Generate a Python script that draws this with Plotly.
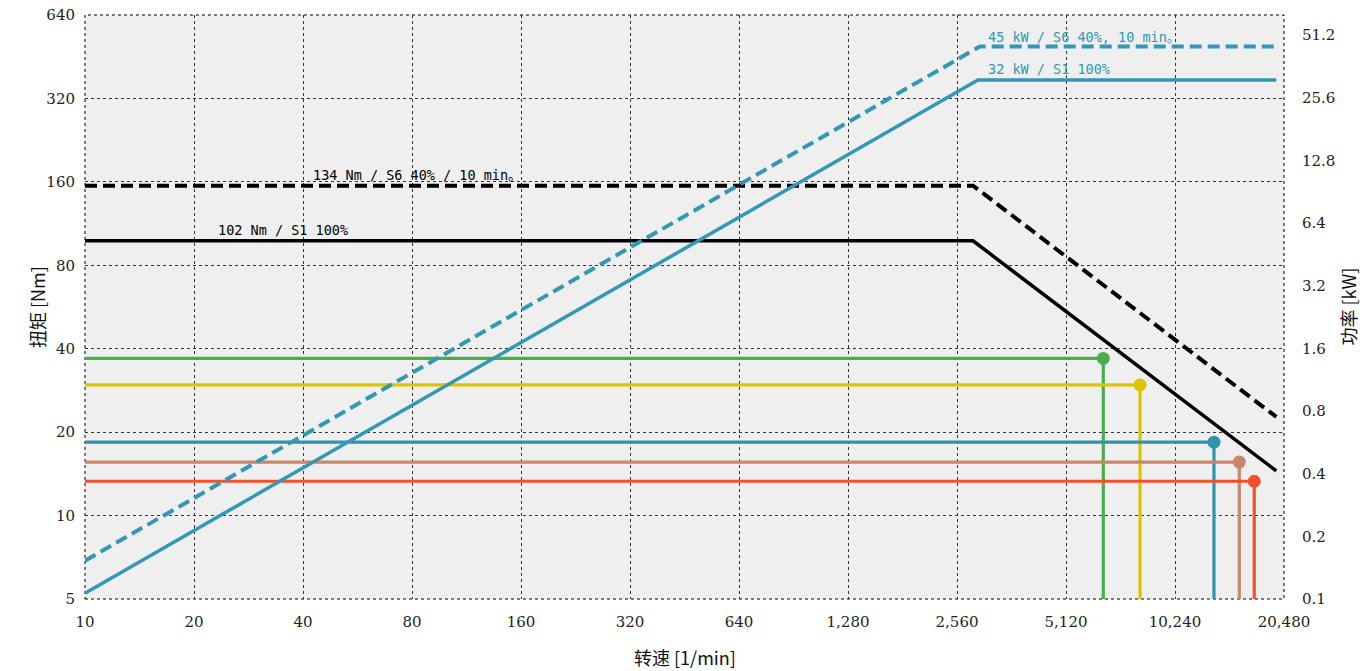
import plotly.graph_objects as go
import math

# ---------------- data ----------------
x_tickvals = [10, 20, 40, 80, 160, 320, 640, 1280, 2560, 5120, 10240, 20480]
x_ticktext = ["10", "20", "40", "80", "160", "320", "640", "1,280", "2,560", "5,120", "10,240", "20,480"]
y_tickvals = [5, 10, 20, 40, 80, 160, 320, 640]
y2_tickvals = [0.1, 0.2, 0.4, 0.8, 1.6, 3.2, 6.4, 12.8, 25.6, 51.2]
y2_ticktext = ["0.1", "0.2", "0.4", "0.8", "1.6", "3.2", "6.4", "12.8", "25.6", "51.2"]

speed_range = [10, 20480]
torque_range = [5, 640]
power_range = [0.1, 64]

# torque curves (Nm)
s1_torque_speed = [10, 2835, 19500]
s1_torque = [98, 98, 14.5]
s6_torque_speed = [10, 2835, 19500]
s6_torque = [155, 155, 22.7]

# power curves (kW)
s1_power_speed = [10, 2925, 19500]
s1_power = [0.1066, 31.2, 31.2]
s6_power_speed = [10, 2960, 19500]
s6_power = [0.1527, 45.2, 45.2]

# operating points
op_speed = [6490, 8200, 13120, 15410, 16950]
op_torque = [36.9, 29.6, 18.4, 15.6, 13.3]
op_colors = ["#4aae4a", "#dcc500", "#2f93ad", "#c8876a", "#f4512b"]

BLUE = "#3298b3"
DASH = "12px,6px"

fig = go.Figure()

# operating point lines
for n, t, c in zip(op_speed, op_torque, op_colors):
    fig.add_trace(go.Scatter(x=[speed_range[0], n, n], y=[t, t, torque_range[0]],
                             mode="lines", line=dict(color=c, width=3.2),
                             hoverinfo="skip", showlegend=False))
    fig.add_trace(go.Scatter(x=[n], y=[t], mode="markers",
                             marker=dict(color=c, size=13),
                             hoverinfo="skip", showlegend=False))

# power curves (right axis)
fig.add_trace(go.Scatter(x=s6_power_speed, y=s6_power, yaxis="y2", mode="lines",
                         line=dict(color=BLUE, width=4, dash=DASH), showlegend=False))
fig.add_trace(go.Scatter(x=s1_power_speed, y=s1_power, yaxis="y2", mode="lines",
                         line=dict(color=BLUE, width=3.5), showlegend=False))

# torque curves
fig.add_trace(go.Scatter(x=s6_torque_speed, y=s6_torque, mode="lines",
                         line=dict(color="black", width=4, dash=DASH), showlegend=False))
fig.add_trace(go.Scatter(x=s1_torque_speed, y=s1_torque, mode="lines",
                         line=dict(color="black", width=3.5), showlegend=False))

tick_font = dict(family="DejaVu Serif", size=15, color="#222")
grid = dict(showgrid=True, gridcolor="#333", gridwidth=1, griddash="3px,3px")

fig.update_layout(
    width=1370, height=671,
    margin=dict(l=85, r=86, t=15, b=72, autoexpand=False),
    paper_bgcolor="white",
    plot_bgcolor="#efefef",
    xaxis=dict(type="log", range=[math.log10(speed_range[0]), math.log10(speed_range[1])],
               tickvals=x_tickvals, ticktext=x_ticktext, tickfont=tick_font,
               ticks="outside", ticklen=9, tickcolor="rgba(0,0,0,0)", automargin=False,
               showline=False, zeroline=False, **grid),
    yaxis=dict(type="log", range=[math.log10(torque_range[0]), math.log10(torque_range[1])],
               tickvals=y_tickvals, ticktext=[str(v) for v in y_tickvals], tickfont=tick_font,
               ticks="outside", ticklen=6, tickcolor="rgba(0,0,0,0)", automargin=False,
               showline=False, zeroline=False, **grid),
    yaxis2=dict(type="log", range=[math.log10(power_range[0]), math.log10(power_range[1])],
                overlaying="y", side="right", tickvals=y2_tickvals, ticktext=y2_ticktext,
                tickfont=tick_font, ticks="outside", ticklen=14, tickcolor="rgba(0,0,0,0)",
                automargin=False, showgrid=False, showline=False, zeroline=False),
    shapes=[dict(type="rect", xref="paper", yref="paper", x0=0, x1=1, y0=0, y1=1,
                 line=dict(color="black", width=1, dash="3px,3px"), layer="below")],
)

ann_font = dict(family="DejaVu Sans Mono, Noto Sans CJK SC", size=13.5)
title_font = dict(family="Noto Sans CJK SC", size=18, color="#111")
fig.add_annotation(text="45 kW / S6 40%, 10 min。", xref="paper", yref="paper",
                   x=0.7515, y=0.962, xanchor="left", yanchor="middle", showarrow=False,
                   font=dict(color=BLUE, **ann_font))
fig.add_annotation(text="32 kW / S1 100%", xref="paper", yref="paper",
                   x=0.7515, y=0.9075, xanchor="left", yanchor="middle", showarrow=False,
                   font=dict(color=BLUE, **ann_font))
fig.add_annotation(text="134 Nm / S6 40% / 10 min。", xref="paper", yref="paper",
                   x=0.1885, y=0.726, xanchor="left", yanchor="middle", showarrow=False,
                   font=dict(color="black", **ann_font))
fig.add_annotation(text="102 Nm / S1 100%", xref="paper", yref="paper",
                   x=0.109, y=0.632, xanchor="left", yanchor="middle", showarrow=False,
                   font=dict(color="black", **ann_font))

# axis titles
fig.add_annotation(text="扭矩 [Nm]", xref="paper", yref="paper", x=-0.04, y=0.5,
                   xanchor="center", yanchor="middle", textangle=-90, showarrow=False, font=title_font)
fig.add_annotation(text="功率 [kW]", xref="paper", yref="paper", x=1.053, y=0.5,
                   xanchor="center", yanchor="middle", textangle=-90, showarrow=False, font=title_font)
fig.add_annotation(text="转速 [1/min]", xref="paper", yref="paper", x=0.5, y=-0.1,
                   xanchor="center", yanchor="middle", showarrow=False, font=title_font)

fig.write_html("out.html", config={"displayModeBar": False},
               post_script="document.body.style.margin='0';")
